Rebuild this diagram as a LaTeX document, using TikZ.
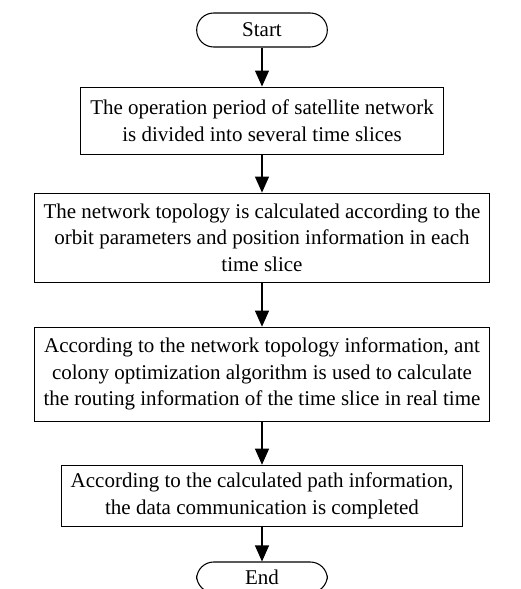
\documentclass[tikz,border=0pt]{standalone}
\usepackage{fontspec}
\setmainfont{Liberation Serif}
\usepackage{tikz}
\usetikzlibrary{arrows.meta,positioning}

\begin{document}
\begin{tikzpicture}[
  >={Triangle[length=12pt,width=10.5pt]},
  node distance=30pt,
  font=\fontsize{15.75pt}{20pt}\selectfont,
  proc/.style={draw, line width=0.8pt, align=center, inner xsep=7pt},
  term/.style={draw, line width=0.8pt, rounded corners=12.75pt, minimum width=98pt, minimum height=25.5pt}
]
\useasboundingbox (-196.5pt,22.5pt) rectangle (194.25pt,-419.25pt);
\node[term] (start) {Start};
\node[proc, minimum height=50.25pt, below=29.25pt of start] (slices) {The operation period of satellite network\\ is divided into several time slices};
\node[proc, minimum height=66.75pt, below=28.5pt of slices] (topology) {The network topology is calculated according to the\\ orbit parameters and position information in each\\ time slice};
\node[proc, minimum height=70.5pt, below=33pt of topology] (routing) {According to the network topology information, ant\\ colony optimization algorithm is used to calculate\\ the routing information of the time slice in real time};
\node[proc, minimum height=45.75pt, below=32.25pt of routing] (comm) {According to the calculated path information,\\ the data communication is completed};
\node[term, minimum height=23pt, below=26pt of comm] (stop) {End};

\draw[->, line width=0.8pt] (start) -- (slices);
\draw[->, line width=0.8pt] (slices) -- (topology);
\draw[->, line width=0.8pt] (topology) -- (routing);
\draw[->, line width=0.8pt] (routing) -- (comm);
\draw[->, line width=0.8pt] (comm) -- (stop);
\end{tikzpicture}
\end{document}
